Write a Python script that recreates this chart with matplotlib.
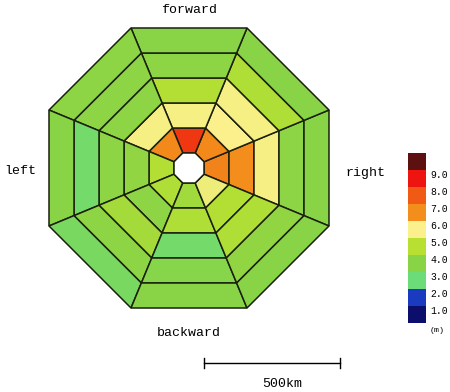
import numpy as np
import matplotlib
matplotlib.use("Agg")
from matplotlib import pyplot as plt
from matplotlib.patches import Polygon
from matplotlib.colors import LinearSegmentedColormap, ListedColormap, BoundaryNorm
import matplotlib.cm as cm

# sector values (m), rings listed from the inner hole outward
sectors = ["right", "front-right", "forward", "front-left",
           "left", "back-left", "backward", "back-right"]
right       = [6.7, 6.5, 5.4, 3.6, 3.5]
front_right = [6.6, 5.5, 5.4, 4.3, 3.5]
forward     = [8.0, 5.4, 4.4, 3.6, 3.5]
front_left  = [6.6, 5.4, 3.6, 3.6, 3.6]
left        = [4.4, 3.7, 3.6, 2.8, 3.5]
back_left   = [4.3, 3.6, 4.1, 3.6, 3.0]
backward    = [4.0, 4.3, 2.8, 3.4, 3.5]
back_right  = [5.3, 4.4, 4.3, 3.7, 3.5]
values = [right, front_right, forward, front_left, left, back_left, backward, back_right]

ring_edges = [15, 40, 65, 90, 115, 140]   # apothem of each ring boundary
level_bounds = [0, 1, 2, 3, 4, 5, 6, 7, 8, 9, 10]
level_colors = ["#0b0f6b", "#1a3ac0", "#6cdc78", "#88d446", "#b8e032",
                "#fcf08c", "#f38e1c", "#f05a14", "#ee1410", "#5c1010"]

# smooth map through the level colours for the cells, stepped one for the bar
stops = [(0.0, level_colors[0])]
stops += [((i + 0.5) / 10, c) for i, c in enumerate(level_colors)]
stops += [(1.0, level_colors[-1])]
cmap_cells = LinearSegmentedColormap.from_list("cells", stops)
cmap_bar = ListedColormap(level_colors)
norm_bar = BoundaryNorm(level_bounds, cmap_bar.N)

fig = plt.figure(figsize=(4.5, 3.92), dpi=100)
ax = fig.add_axes([0, 0, 1, 1])
ax.set_xlim(-189, 261)
ax.set_ylim(-224, 168)
ax.set_aspect("equal")
ax.axis("off")

half = np.deg2rad(22.5)
k = 1 / np.cos(half)


def ring_pts(a, th):
    r = a * k
    return [(r * np.cos(th - half), r * np.sin(th - half)),
            (r * np.cos(th + half), r * np.sin(th + half))]


for s, vals in enumerate(values):
    th = np.deg2rad(45 * s)
    for i, v in enumerate(vals):
        inner = ring_pts(ring_edges[i], th)
        outer = ring_pts(ring_edges[i + 1], th)
        poly = Polygon([inner[0], outer[0], outer[1], inner[1]], closed=True,
                       facecolor=cmap_cells(v / 10), edgecolor="#1a200e", lw=1.1)
        ax.add_patch(poly)

# white hole in the middle
hole = [ring_pts(ring_edges[0], np.deg2rad(45 * s))[0] for s in range(8)]
ax.add_patch(Polygon(hole, closed=True, facecolor="white", edgecolor="#1a200e", lw=1.1))

mono = "Liberation Mono"
ax.text(0, 158, "forward", ha="center", va="center", family=mono, fontsize=9.5)
ax.text(0, -165, "backward", ha="center", va="center", family=mono, fontsize=9.5)
ax.text(-169, -3, "left", ha="center", va="center", family=mono, fontsize=9.5)
ax.text(176, -5, "right", ha="center", va="center", family=mono, fontsize=9.5)

# scale bar
ax.plot([15, 151], [-195, -195], color="black", lw=1.0)
ax.plot([15, 15], [-190, -200], color="black", lw=1.0)
ax.plot([151, 151], [-190, -200], color="black", lw=1.0)
ax.text(93, -216, "500km", ha="center", va="center", family=mono, fontsize=9.5)

# colour bar
cax = fig.add_axes([408 / 450, (392 - 323) / 392, 18 / 450, 170 / 392])
cb = fig.colorbar(cm.ScalarMappable(norm=norm_bar, cmap=cmap_bar), cax=cax,
                  ticks=level_bounds[1:-1])
cb.outline.set_visible(False)
cb.ax.minorticks_off()
cb.ax.set_yticklabels(["%.1f" % t for t in level_bounds[1:-1]], family=mono, fontsize=7)
cb.ax.tick_params(which="both", length=0, pad=3)
for lab in cb.ax.get_yticklabels():
    lab.set_va("top")
fig.text(430 / 450, 1 - 331 / 392, "(m)", family=mono, fontsize=6, va="center")

fig.savefig("out.png", dpi=100)
